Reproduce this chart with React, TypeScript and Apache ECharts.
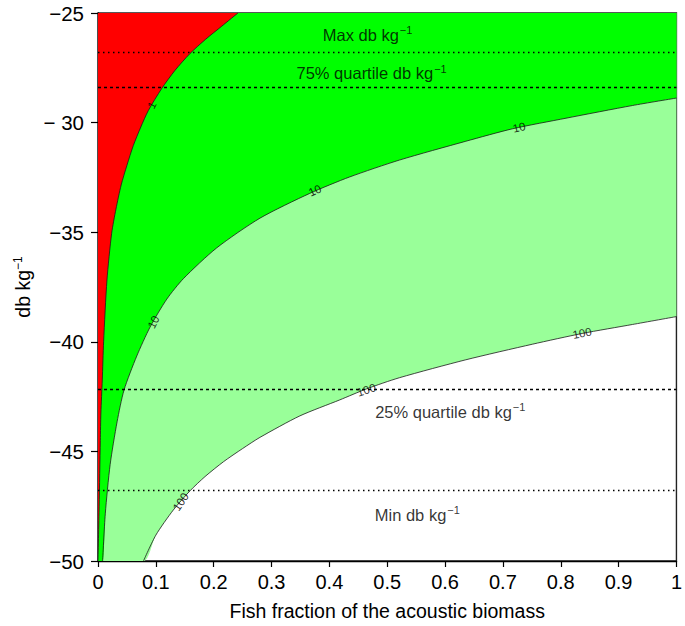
import React, { useEffect, useRef } from "react";
import * as echarts from "echarts";

// Contour lines: [fish fraction, db kg^-1]
const contour1: [number, number][] = [
  [0.0, -50.0], [0.002, -47.5], [0.004, -44.5], [0.005, -43.25], [0.0074, -41.74],
  [0.0097, -40.0], [0.0155, -37.18], [0.0236, -35.05], [0.031, -33.95], [0.04, -32.85],
  [0.05, -31.95], [0.061, -31.05], [0.074, -30.2], [0.087, -29.45], [0.11, -28.45],
  [0.133, -27.62], [0.159, -26.85], [0.186, -26.2], [0.214, -25.6], [0.242, -25.0],
];
const contour10: [number, number][] = [
  [0.008, -50.0], [0.0126, -47.85], [0.021, -45.6], [0.033, -43.65], [0.045, -42.2],
  [0.067, -40.65], [0.09, -39.33], [0.119, -38.05], [0.1476, -37.12], [0.205, -35.72],
  [0.28, -34.36], [0.366, -33.23], [0.435, -32.48], [0.521, -31.71], [0.636, -30.85],
  [0.717, -30.28], [0.809, -29.8], [0.924, -29.22], [1.0, -28.88],
];
const contour100: [number, number][] = [
  [0.0786, -50.0], [0.1, -48.82], [0.13, -47.68], [0.159, -46.8], [0.185, -46.15],
  [0.217, -45.47], [0.25, -44.87], [0.28, -44.36], [0.349, -43.38], [0.418, -42.65],
  [0.464, -42.15], [0.521, -41.64], [0.636, -40.82], [0.751, -40.11], [0.837, -39.62],
  [0.924, -39.21], [1.0, -38.85],
];

// Contour labels
const contourLabelText = ["1", "10", "10", "10", "100", "100", "100"];
const contourLabelX = [0.093, 0.096, 0.375, 0.728, 0.143, 0.464, 0.837];
const contourLabelY = [-29.2, -39.1, -33.1, -30.22, -47.3, -42.2, -39.61];
const contourLabelAngle = [63, 63, 24, 13, 56, 18, 11];

// Reference levels (dotted lines)
const refLevelNames = ["Max", "75% quartile", "25% quartile", "Min"];
const refLevelValues = [-26.78, -28.38, -42.17, -46.77];

// Annotation texts
const annotationTexts = ["Max db kg", "75% quartile db kg", "25% quartile db kg", "Min db kg"];
const annotationX = [0.466, 0.473, 0.609, 0.552];
const annotationY = [-26.0, -27.74, -43.2, -47.89];

// Axis ticks
const yTickValues = [-50, -45, -40, -35, -30, -25];
const yTickLabels = ["\u221250", "\u221245", "\u221240", "\u221235", "\u2212 30", "\u221225"];

const FONT = "'Liberation Sans', Arial, Helvetica, sans-serif";
const RED = "#ff0000";
const GREEN = "#00ff00";
const PALE = "#99ff99";
const INK = "#000";
const SMOOTH = 0.25;

export default function App() {
  const ref = useRef<HTMLDivElement>(null);
  useEffect(() => {
    document.body.style.margin = "0";
    if (!ref.current) return;
    const chart = echarts.init(ref.current, null, { renderer: "svg" });
    const xMin = 0, xMax = 1, yMin = -50, yMax = -25;

    const areaSeries = (data: [number, number][], color: string, withCorner: boolean) => ({
      type: "line",
      data: withCorner ? [[xMin, yMin], ...data] : data,
      smooth: SMOOTH,
      symbol: "none",
      lineStyle: { width: 0, opacity: 0 },
      areaStyle: { color, opacity: 1, origin: "end" },
      silent: true,
    });
    const lineSeries = (data: [number, number][]) => ({
      type: "line",
      data,
      smooth: SMOOTH,
      symbol: "none",
      lineStyle: { width: 0.8, color: "#1a1a1a", join: "round" },
      silent: true,
      z: 3,
    });

    const dashFor = (name: string) =>
      name === "Max" || name === "Min" ? [1.5, 3.5] : [3, 3];

    chart.setOption({
      animation: false,
      textStyle: { fontFamily: FONT },
      grid: {
        left: 98, right: 7, top: 13, bottom: 65,
        show: true, borderColor: "#222", borderWidth: 1.4, backgroundColor: "#fff",
        containLabel: false,
      },
      xAxis: {
        type: "value", min: xMin, max: xMax, interval: 0.1,
        name: "Fish fraction of the acoustic biomass",
        nameLocation: "middle", nameGap: 40,
        nameTextStyle: { fontSize: 19.5, color: INK, fontFamily: FONT },
        axisLine: { show: true, lineStyle: { color: INK, width: 1.4 } },
        axisTick: { show: true, length: 6, lineStyle: { color: INK, width: 1.2 } },
        axisLabel: {
          fontSize: 20, color: INK, margin: 11, fontFamily: FONT,
          formatter: (v: number) => String(Math.round(v * 10) / 10),
        },
        splitLine: { show: false },
      },
      yAxis: {
        type: "value", min: yMin, max: yMax, interval: 5,
        name: "{a|db kg}{s|\u22121}",
        nameLocation: "middle", nameGap: 64, nameRotate: 90,
        nameTextStyle: {
          color: INK, fontFamily: FONT,
          rich: {
            a: { fontSize: 19.5, color: INK, fontFamily: FONT },
            s: { fontSize: 12, color: INK, fontFamily: FONT, padding: [0, 0, 10, 0] },
          },
        },
        axisLine: { show: true, lineStyle: { color: INK, width: 1.4 } },
        axisTick: { show: true, length: 7, lineStyle: { color: INK, width: 1.2 } },
        axisLabel: {
          fontSize: 20.5, color: INK, margin: 14, fontFamily: FONT,
          formatter: (v: number) => {
            const i = yTickValues.indexOf(Math.round(v));
            return i >= 0 ? yTickLabels[i] : String(v);
          },
        },
        splitLine: { show: false },
      },
      series: [
        areaSeries(contour100, PALE, true),
        areaSeries(contour10, GREEN, true),
        areaSeries(contour1, RED, false),
        lineSeries(contour100),
        lineSeries(contour10),
        lineSeries(contour1),
        {
          type: "line",
          data: [],
          symbol: "none",
          silent: true,
          z: 4,
          markLine: {
            silent: true,
            symbol: ["none", "none"],
            label: { show: false },
            data: refLevelValues.map((v, i) => ({
              yAxis: v,
              name: refLevelNames[i],
              lineStyle: { color: INK, width: 1.3, type: dashFor(refLevelNames[i]) },
            })),
          },
        },
        {
          type: "scatter",
          symbolSize: 0,
          silent: true,
          z: 5,
          data: contourLabelText.map((t, i) => ({
            value: [contourLabelX[i], contourLabelY[i]],
            label: {
              show: true,
              position: "inside",
              formatter: t,
              rotate: contourLabelAngle[i],
              fontSize: 11.5,
              color: INK,
              fontFamily: FONT,
            },
          })),
        },
        {
          type: "scatter",
          symbolSize: 0,
          silent: true,
          z: 5,
          data: annotationTexts.map((t, i) => ({
            value: [annotationX[i], annotationY[i]],
            label: {
              show: true,
              position: "inside",
              formatter: "{a|" + t + "}{s|\u22121}",
              rich: {
                a: { fontSize: 16.5, color: INK, fontFamily: FONT },
                s: { fontSize: 11, color: INK, fontFamily: FONT, padding: [0, 0, 9, 1] },
              },
            },
          })),
        },
      ],
    });
    return () => chart.dispose();
  }, []);
  return <div ref={ref} style={{ width: 685, height: 626 }} />;
}
